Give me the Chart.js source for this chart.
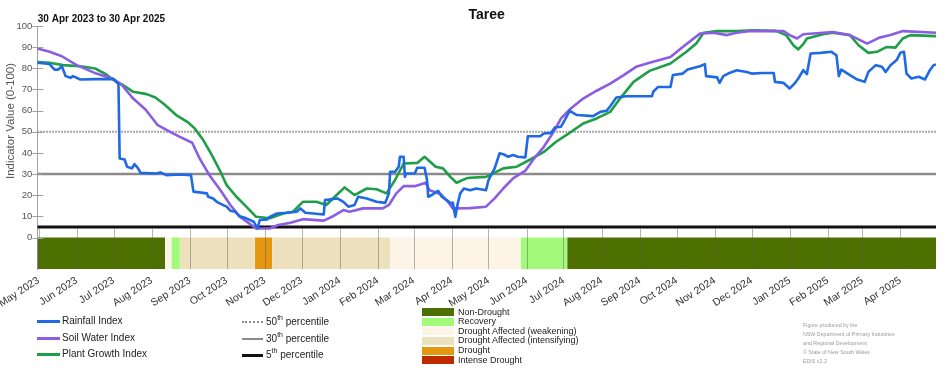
<!DOCTYPE html>
<html>
<head>
<meta charset="utf-8">
<script src="https://cdn.jsdelivr.net/npm/chart.js@4.4.0/dist/chart.umd.min.js"></script>
<style>
html,body{margin:0;padding:0;background:#fff;}
#wrap{position:relative;width:952px;height:370px;overflow:hidden;font-family:"Liberation Sans",Arial,sans-serif;}
#c{position:absolute;left:0;top:0;}
.lg{position:absolute;white-space:nowrap;color:#222;}
.sw{position:absolute;}
sup{font-size:7px;line-height:0;position:relative;top:-1px;vertical-align:super;}
</style>
</head>
<body>
<div id="wrap"><canvas id="c" width="952" height="370"></canvas><div id="legend"></div></div>
<script>
// ---- data ----
const chartTitle = 'Taree';
const periodText = '30 Apr 2023 to 30 Apr 2025';
const yAxisTitle = 'Indicator Value (0-100)';
const startDate = '2023-04-30';
const totalDays = 731;

const monthLabels = ['May 2023','Jun 2023','Jul 2023','Aug 2023','Sep 2023','Oct 2023','Nov 2023','Dec 2023',
  'Jan 2024','Feb 2024','Mar 2024','Apr 2024','May 2024','Jun 2024','Jul 2024','Aug 2024','Sep 2024','Oct 2024',
  'Nov 2024','Dec 2024','Jan 2025','Feb 2025','Mar 2025','Apr 2025'];
const monthStarts = ['2023-05-01','2023-06-01','2023-07-01','2023-08-01','2023-09-01','2023-10-01','2023-11-01','2023-12-01',
  '2024-01-01','2024-02-01','2024-03-01','2024-04-01','2024-05-01','2024-06-01','2024-07-01','2024-08-01','2024-09-01','2024-10-01',
  '2024-11-01','2024-12-01','2025-01-01','2025-02-01','2025-03-01','2025-04-01'];
const yTickValues = [0,10,20,30,40,50,60,70,80,90,100];

const seriesNames = ['Rainfall Index','Soil Water Index','Plant Growth Index'];

// day offsets from startDate
const rainfallDay = [0,10,14,17,20,23,27,29,35,48,
  62,65,66,67,71,73,77,79,82,84,
  97,100,105,116,125,127,138,139,143,146,
  150,154,157,161,164,170,176,179,181,187,
  189,195,203,211,214,218,233,234,244,249,
  253,258,261,268,276,283,286,287,291,294,
  295,298,299,300,307,309,315,317,318,321,
  326,329,333,337,338,340,342,344,347,352,
  357,365,367,372,376,379,383,387,391,397,
  399,409,412,418,421,426,429,433,439,452,
  458,463,466,471,479,500,501,505,515,517,
  525,529,539,543,544,553,555,558,563,569,
  577,581,590,599,600,607,612,616,619,623,
  626,629,637,646,650,652,654,661,667,673,
  676,682,687,690,694,699,702,705,707,711,
  717,722,726,729,731];
const rainfallValue = [82.6,82,79.4,79.4,81,76.3,75.5,76.3,74.7,74.9,
  74.9,73.1,72.8,37.4,36.9,33.5,32.7,34.7,32.7,30.6,
  30.3,30.8,29.5,29.8,29.5,21.7,20.9,19.3,18.5,16.9,
  15.7,14.6,12.7,12.2,10.2,9.1,7.5,4.3,8.3,8.6,
  9.8,11.4,11.7,12.2,13.8,11.7,10.9,17.7,18.5,16.9,
  14.6,15.4,19.3,18.5,16.9,16.4,20.9,31.1,31.1,33.5,
  38.2,38.2,28.7,30.3,30.3,33,33,27.2,19.3,20.1,
  22.1,19.3,17.7,16.1,16.5,9.8,16.1,20.9,23.2,22.4,
  23.2,22.4,27.2,32.7,39.8,39.4,38.2,39,38.2,37.9,
  47.9,47.9,49.2,49.5,52,52.4,55.5,59.9,57.9,57.4,
  59.4,59.9,62.1,66.2,66.8,66.8,68.9,71.2,71.2,76.8,
  77.5,79.4,81,82,76.3,75.7,73.1,76.3,77.8,79.1,
  78.3,77.5,77.8,77.8,73.6,73.1,70.5,72.8,75.2,79.1,
  77.3,87,87.3,87.8,86.2,76.3,79.4,76.8,74.7,73.6,
  78.3,81.5,80.7,78.3,81.5,83.9,87.3,87.8,77.5,75.2,
  76,74.7,79.1,81.5,81.8];

const soilDay = [0,10,20,32,48,62,69,78,88,98,
  108,116,126,132,140,149,157,165,173,178,
  189,196,206,216,233,241,249,254,265,281,
  286,292,298,307,316,319,328,334,338,352,
  365,372,379,387,397,403,412,420,426,433,
  444,455,466,477,487,498,515,525,539,550,
  561,569,580,607,612,618,623,647,661,675,
  685,694,704,731];
const soilValue = [89.4,87.8,85.7,81.5,77.5,74.9,72,65.7,60.5,53.1,
  50,47.6,44.8,37.4,29.5,22.4,15.4,9.8,6.4,4.3,
  4.3,5.9,7,8.7,8,10.2,13,12.2,13.8,13.8,
  15.4,20.9,24.3,24.3,25.9,22.4,20.6,16.9,13.8,13.9,
  14.6,18.5,23.2,28,31.6,36.6,42.9,50,56.3,60.5,
  65.7,69.4,72.8,76.8,80.7,82.6,85.4,90.1,96.4,96.8,
  95.7,96.8,97.6,97.6,95.7,94.1,96.1,97.2,95.7,91.7,
  94.5,95.7,97.6,96.8];

const plantDay = [0,10,21,35,47,55,63,70,78,89,
  96,103,113,122,128,135,142,149,154,162,
  170,178,189,200,208,216,227,235,242,250,
  258,268,276,284,291,298,309,315,324,330,
  336,341,349,352,365,379,390,401,412,422,
  433,444,455,466,474,485,498,515,528,536,
  542,553,569,582,601,609,615,619,623,626,
  639,647,661,668,676,683,691,698,704,710,
  731];
const plantValue = [83,82.6,81.5,81,79.9,77.5,74.1,72,68.9,67.8,
  66.2,63.1,57.9,54.7,51.6,46.1,39,31.1,24.8,19.3,
  14.6,9.8,9.1,11.4,12.2,16.9,16.9,15.4,19.3,23.7,
  20.1,23.2,22.8,20.9,27.2,35,35.3,38.2,33.5,32.7,
  28.7,25.9,28,28.3,28.7,32.7,33.5,36.9,40.5,45.3,
  49.5,53.9,56.3,59.4,65.7,73.6,78.8,82.3,87.8,91.7,
  96.8,97.6,97.6,98,97.7,95.7,90.9,88.9,91.4,94.1,
  96.1,96.8,95.7,90.9,87.3,87.8,90.1,89.8,94.1,95.7,
  95.2];

const percentileNames = ['50','30','5'];
const percentileValues = [50,30,5];

const bandCategories = ['Non-Drought','Recovery','Drought Affected (weakening)','Drought Affected (intensifying)','Drought','Intense Drought'];
// drought status periods (day offsets) and category index
const bandStart = [0,104,109,116,177,191,287,393,431];
const bandEnd   = [104,109,116,177,191,287,393,431,731];
const bandCategory = [0,2,1,3,4,3,2,1,0];

// ---- styles ----
const seriesColors = ['#1f69e3','#8a5de3','#1f9e48'];
const percentileColors = ['#8a8a8a','#8a8a8a','#111111'];
const percentileDash = [[1.5,1.5],[],[]];
const percentileWidths = [2,2.5,3];
const bandColors = ['#4d7000','#a3f97a','#fdf3e6','#ede0bd','#e5980f','#bf2a00'];
const BAND_BOTTOM = -15;

function dayOf(s){ return Math.round((Date.parse(s) - Date.parse(startDate)) / 86400000); }
const tickDays = monthStarts.map(dayOf);
const pts = (xs, ys) => xs.map((x,i)=>({x:x, y:ys[i]}));

const datasets = [];
const seriesDays = [rainfallDay, soilDay, plantDay];
const seriesVals = [rainfallValue, soilValue, plantValue];
seriesNames.forEach((n,i)=>{
  datasets.push({label:n, data:pts(seriesDays[i], seriesVals[i]), borderColor:seriesColors[i],
    borderWidth:2.6, pointRadius:0, tension:0, fill:false, borderJoinStyle:'round'});
});
percentileValues.forEach((v,i)=>{
  datasets.push({label:percentileNames[i]+'th percentile', data:[{x:0,y:v},{x:totalDays,y:v}],
    borderColor:percentileColors[i], borderDash:percentileDash[i], borderWidth:percentileWidths[i],
    pointRadius:0, fill:false});
});
bandStart.forEach((s,i)=>{
  datasets.push({label:'band'+i, data:[{x:s,y:0},{x:bandEnd[i],y:0}], borderWidth:0, borderColor:'rgba(0,0,0,0)',
    backgroundColor:bandColors[bandCategory[i]], pointRadius:0, fill:{value:BAND_BOTTOM}});
});

const FONT = '"Liberation Sans", Arial, sans-serif';

const decor = {
  id:'decor',
  afterDatasetsDraw(chart){
    const {ctx, scales:{x,y}} = chart;
    ctx.save();
    ctx.lineWidth = 1;
    ctx.strokeStyle = 'rgba(90,90,90,0.45)';
    const yT = y.getPixelForValue(4.3), yB = y.getPixelForValue(BAND_BOTTOM);
    tickDays.forEach(d=>{
      const px = Math.round(x.getPixelForValue(d)) + 0.5;
      ctx.beginPath(); ctx.moveTo(px,yT); ctx.lineTo(px,yB); ctx.stroke();
    });
    ctx.strokeStyle = '#a0a0a0';
    yTickValues.forEach(v=>{
      const py = Math.round(y.getPixelForValue(v)) + 0.5;
      ctx.beginPath(); ctx.moveTo(x.left-5,py); ctx.lineTo(x.left+6,py); ctx.stroke();
    });
    ctx.restore();
  },
  afterDraw(chart){
    const {ctx, chartArea} = chart;
    ctx.save();
    ctx.fillStyle = '#111';
    ctx.textBaseline = 'middle';
    ctx.font = 'bold 14px ' + FONT;
    ctx.textAlign = 'center';
    ctx.fillText(chartTitle, (chartArea.left+chartArea.right)/2, 15);
    ctx.font = 'bold 10px ' + FONT;
    ctx.textAlign = 'left';
    ctx.fillText(periodText, chartArea.left+0.5, 19);
    ctx.fillStyle = '#555';
    ctx.font = '11.5px ' + FONT;
    ctx.translate(11, 121);
    ctx.rotate(-Math.PI/2);
    ctx.textAlign = 'center';
    ctx.fillText(yAxisTitle, 0, 0);
    ctx.restore();
  }
};

new Chart(document.getElementById('c'), {
  type:'line',
  data:{datasets:datasets},
  options:{
    responsive:false, animation:false, devicePixelRatio:1,
    layout:{padding:{top:26,right:16,left:0,bottom:0}},
    plugins:{legend:{display:false}, tooltip:{enabled:false}, title:{display:false}},
    scales:{
      x:{type:'linear', min:0, max:totalDays,
        grid:{display:false}, border:{display:false},
        afterBuildTicks(ax){ ax.ticks = tickDays.map(v=>({value:v})); },
        afterFit(ax){ ax.height = 100.7; },
        ticks:{autoSkip:false, minRotation:33, maxRotation:33, padding:-3, color:'#333',
          font:{family:FONT, size:10.5},
          callback:(v,i)=>monthLabels[i]}
      },
      y:{type:'linear', min:BAND_BOTTOM, max:100,
        grid:{display:false, drawTicks:false, tickLength:0}, border:{display:true, color:'#a0a0a0', width:1},
        afterBuildTicks(ax){ ax.ticks = yTickValues.map(v=>({value:v})); },
        afterFit(ax){ ax.width = 37.3; },
        ticks:{padding:5, color:'#555', font:{family:FONT, size:9.5}}
      }
    }
  },
  plugins:[decor]
});

// ---- HTML legend ----
const L = document.getElementById('legend');
function add(html, style, cls){ const d=document.createElement('div'); d.className=cls||'lg'; d.innerHTML=html; Object.assign(d.style, style); L.appendChild(d); return d; }
const sRows = [321,338,354];
seriesNames.forEach((n,i)=>{
  add('', {left:'37px', top:(sRows[i]-1.5)+'px', width:'23px', height:'3px', background:seriesColors[i]}, 'sw');
  add(n, {left:'62px', top:(sRows[i]-7)+'px', fontSize:'10px', lineHeight:'14px'});
});
const pRows = [322,339,355];
percentileNames.forEach((n,i)=>{
  const st = {left:'242px', top:(pRows[i]-percentileWidths[i]/2)+'px', width:'21px', height:'0px'};
  if (percentileDash[i].length) { st.borderTop = percentileWidths[i]+'px dotted '+percentileColors[i]; }
  else { st.borderTop = percentileWidths[i]+'px solid '+percentileColors[i]; }
  add('', st, 'sw');
  add(n+'<sup>th</sup> percentile', {left:'266px', top:(pRows[i]-7)+'px', fontSize:'10px', lineHeight:'14px'});
});
bandCategories.forEach((n,i)=>{
  const cy = 312.3 + i*9.55;
  add('', {left:'422px', top:(cy-4)+'px', width:'32px', height:'8px', background:bandColors[i]}, 'sw');
  add(n, {left:'458px', top:(cy-5.5)+'px', fontSize:'9px', lineHeight:'11px'});
});
const credit = ['Figure produced by the','NSW Department of Primary Industries','and Regional Development','\u00A9 State of New South Wales','EDIS v2.2'];
credit.forEach((t,i)=>{
  add(t, {left:'803px', top:(325 + i*9 - 4)+'px', fontSize:'5.3px', lineHeight:'8px', color:'#9a9a9a'});
});
</script>
</body>
</html>
